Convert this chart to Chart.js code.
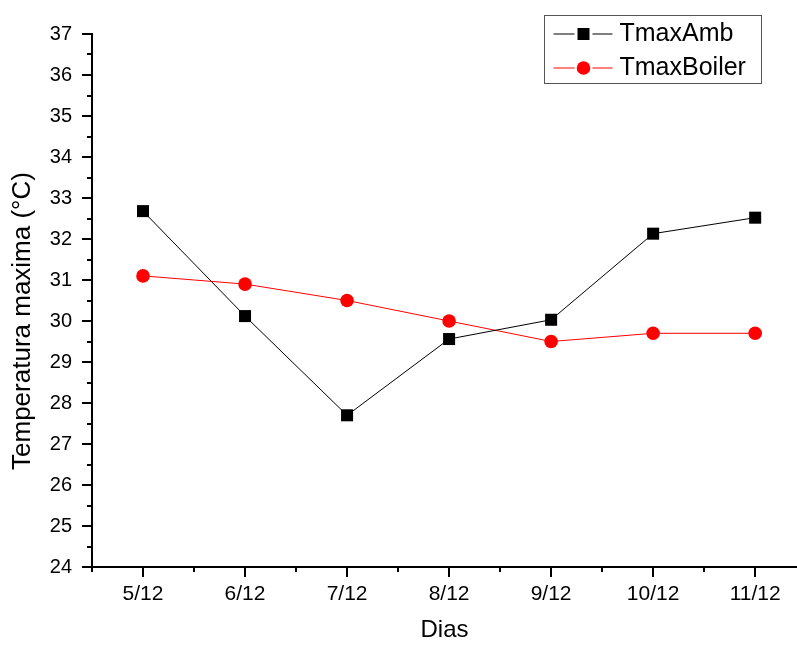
<!DOCTYPE html>
<html>
<head>
<meta charset="utf-8">
<script src="https://cdn.jsdelivr.net/npm/chart.js@4/dist/chart.umd.min.js"></script>
<style>
  html, body { margin: 0; padding: 0; background: #fff; }
  #wrap { width: 797px; height: 645px; }
</style>
</head>
<body>
<div id="wrap"><canvas id="tempChart" width="797" height="645"></canvas></div>
<script>
// dias e temperaturas maximas
const dias = ['5/12', '6/12', '7/12', '8/12', '9/12', '10/12', '11/12'];
const tmaxAmb = [32.68, 30.12, 27.7, 29.56, 30.03, 32.13, 32.52];
const tmaxBoiler = [31.1, 30.9, 30.5, 30.0, 29.5, 29.7, 29.7];
const yTicks = [24, 25, 26, 27, 28, 29, 30, 31, 32, 33, 34, 35, 36, 37];
const tituloY = 'Temperatura maxima (°C)';

const FONT = 'Arial, "Liberation Sans", sans-serif';

function pontos(valores) {
    return valores.map((v, i) => ({ x: i, y: v }));
}

// ticks maiores e menores estilo Origin + titulo do eixo y
const eixosPlugin = {
    id: 'eixosOrigin',
    afterDraw(chart) {
        const { ctx, chartArea } = chart;
        const xs = chart.scales.x, ys = chart.scales.y;
        ctx.save();
        ctx.strokeStyle = '#000';
        ctx.lineWidth = 2;
        ctx.beginPath();
        for (let v = yTicks[0]; v <= yTicks[yTicks.length - 1]; v += 0.5) {
            const y = Math.round(ys.getPixelForValue(v));
            const len = Number.isInteger(v) ? 10 : 5;
            ctx.moveTo(chartArea.left, y);
            ctx.lineTo(chartArea.left - len, y);
        }
        for (let v = -0.5; v <= dias.length - 0.5; v += 0.5) {
            const x = Math.round(xs.getPixelForValue(v));
            if (x > chart.width) break;
            const len = Number.isInteger(v) ? 10 : 5;
            ctx.moveTo(x, chartArea.bottom);
            ctx.lineTo(x, chartArea.bottom + len);
        }
        ctx.stroke();

        ctx.translate(23, 321);
        ctx.rotate(-Math.PI / 2);
        ctx.fillStyle = '#000';
        ctx.font = '26px ' + FONT;
        ctx.textAlign = 'center';
        ctx.textBaseline = 'middle';
        ctx.fillText(tituloY, 0, 0);
        ctx.restore();
    }
};

// legenda com linha - marcador - linha
const legendaPlugin = {
    id: 'legendaOrigin',
    afterDraw(chart) {
        const { ctx } = chart;
        const box = { x: 544.5, y: 15.5, w: 217, h: 68 };
        ctx.save();
        ctx.fillStyle = '#fff';
        ctx.fillRect(box.x, box.y, box.w, box.h);
        ctx.strokeStyle = '#555';
        ctx.lineWidth = 1;
        ctx.strokeRect(box.x, box.y, box.w, box.h);
        ctx.font = '25px ' + FONT;
        ctx.textBaseline = 'middle';
        chart.data.datasets.forEach((ds, i) => {
            const cy = box.y + 18 + i * 34;
            const mx = box.x + 39;
            ctx.strokeStyle = ds.borderColor;
            ctx.beginPath();
            ctx.moveTo(box.x + 9, cy + 0.5);
            ctx.lineTo(mx - 9, cy + 0.5);
            ctx.moveTo(mx + 9, cy + 0.5);
            ctx.lineTo(box.x + 68, cy + 0.5);
            ctx.stroke();
            ctx.fillStyle = ds.pointBackgroundColor;
            if (ds.pointStyle === 'rect') {
                ctx.fillRect(mx - 6, cy - 5.5, 12, 12);
            } else {
                ctx.beginPath();
                ctx.arc(mx, cy + 0.5, 6.8, 0, Math.PI * 2);
                ctx.fill();
            }
            ctx.fillStyle = '#000';
            ctx.fillText(ds.label, box.x + 75, cy + 1);
        });
        ctx.restore();
    }
};

const tempChart = new Chart(document.getElementById('tempChart'), {
    type: 'line',
    data: {
        datasets: [{
            label: 'TmaxAmb',
            data: pontos(tmaxAmb),
            borderColor: '#000',
            borderWidth: 1,
            pointStyle: 'rect',
            pointRadius: 8.5,
            pointBackgroundColor: '#000',
            pointBorderColor: '#000',
            pointBorderWidth: 0,
        }, {
            label: 'TmaxBoiler',
            data: pontos(tmaxBoiler),
            borderColor: '#ff0000',
            borderWidth: 1,
            pointStyle: 'circle',
            pointRadius: 6.8,
            pointBackgroundColor: '#ff0000',
            pointBorderColor: '#ff0000',
            pointBorderWidth: 0,
        }]
    },
    options: {
        responsive: false,
        animation: false,
        layout: {
            autoPadding: false,
            padding: { top: 34, left: 0, right: 0, bottom: 0 }
        },
        plugins: {
            legend: { display: false },
            tooltip: { enabled: false }
        },
        scales: {
            x: {
                type: 'linear',
                min: -0.5,
                max: 6.41,
                afterBuildTicks: (scale) => {
                    scale.ticks = dias.map((d, i) => ({ value: i }));
                },
                afterFit: (scale) => {
                    scale.height = 78;
                    scale.paddingLeft = 0;
                    scale.paddingRight = 0;
                },
                grid: { display: false, drawTicks: false },
                border: { display: true, color: '#000', width: 2 },
                ticks: {
                    color: '#000',
                    padding: 15,
                    maxRotation: 0,
                    font: { family: FONT, size: 21 },
                    callback: (v) => dias[v] ?? ''
                },
                title: {
                    display: true,
                    text: 'Dias',
                    color: '#000',
                    padding: 0,
                    font: { family: FONT, size: 24 }
                }
            },
            y: {
                min: yTicks[0],
                max: yTicks[yTicks.length - 1],
                afterBuildTicks: (scale) => {
                    scale.ticks = yTicks.map(v => ({ value: v }));
                },
                afterFit: (scale) => { scale.width = 92; },
                grid: { display: false, drawTicks: false },
                border: { display: true, color: '#000', width: 2 },
                ticks: {
                    color: '#000',
                    padding: 20,
                    font: { family: FONT, size: 20 }
                },
                title: { display: false }
            }
        }
    },
    plugins: [eixosPlugin, legendaPlugin]
});
</script>
</body>
</html>
